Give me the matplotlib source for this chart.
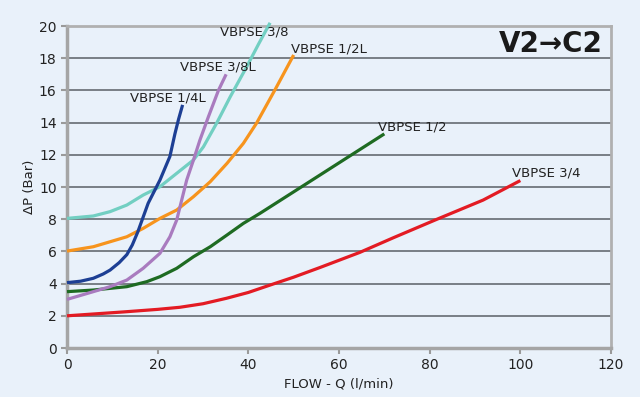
import matplotlib.pyplot as plt

# values (flow l/min, pressure drop bar)
x_34 = [0, 12.4, 20, 24.9, 30, 35.2, 40, 44.8, 50, 55.8, 64.6, 72, 81.2, 91.8, 100]
y_34 = [2.0, 2.24, 2.4, 2.53, 2.75, 3.09, 3.45, 3.91, 4.4, 5.0, 5.94, 6.85, 7.95, 9.19, 10.4]

x_12 = [0, 5.8, 13.2, 17.6, 20.5, 24.2, 27.9, 31.6, 35.3, 38.9, 42.6, 50, 60, 70]
y_12 = [3.5, 3.6, 3.81, 4.12, 4.43, 4.95, 5.67, 6.29, 7.02, 7.74, 8.37, 9.7, 11.5, 13.3]

x_12l = [0, 5.8, 9.5, 13.2, 16.8, 20.5, 24.2, 27.9, 31.6, 35.3, 38.9, 41.8, 46, 50]
y_12l = [6.02, 6.29, 6.6, 6.91, 7.43, 8.05, 8.57, 9.4, 10.33, 11.47, 12.71, 13.96, 16.1, 18.2]

x_38 = [0, 5.8, 9.5, 13.2, 16.8, 20.5, 24.2, 27.9, 30.1, 33.0, 36.0, 39.6, 42.3, 44.8]
y_38 = [8.05, 8.2, 8.47, 8.88, 9.5, 10.02, 10.85, 11.68, 12.5, 13.96, 15.6, 17.45, 18.9, 20.2]

x_38l = [0, 5.8, 9.5, 13.2, 16.8, 20.5, 22.7, 24.2, 25.3, 26.4, 27.9, 29.3, 31.2, 33.4, 35.1]
y_38l = [3.02, 3.5, 3.81, 4.22, 4.95, 5.88, 6.91, 7.95, 9.19, 10.43, 11.68, 12.9, 14.37, 16.0, 17.0]

x_14l = [0, 3, 5.8, 8, 9.5, 11.5, 13.2, 14.4, 15.6, 17.9, 20.5, 22.7, 23.8, 24.6, 25.5]
y_14l = [4.06, 4.15, 4.33, 4.6, 4.84, 5.3, 5.8, 6.4, 7.2, 8.99, 10.43, 11.9, 13.3, 14.2, 15.1]

names = ['VBPSE 3/4', 'VBPSE 1/2', 'VBPSE 1/2L', 'VBPSE 3/8', 'VBPSE 3/8L', 'VBPSE 1/4L']
colors = ['#e31b23', '#1e6b22', '#f7941d', '#72cfc2', '#a97bbf', '#1d3f94']
label_pos = [(98.2, 10.9), (68.6, 13.7), (49.4, 18.6), (33.8, 19.6), (24.9, 17.45), (13.9, 15.5)]

bg = '#e9f1fa'
fig = plt.figure(figsize=(6.4, 3.97), dpi=100, facecolor=bg)
ax = fig.add_axes([0.1047, 0.1234, 0.85, 0.8111], facecolor=bg)

for yy in range(2, 20, 2):
    ax.axhline(yy, color='#5a5f66', lw=1.1, zorder=1)

series = [(x_34, y_34), (x_12, y_12), (x_12l, y_12l), (x_38, y_38), (x_38l, y_38l), (x_14l, y_14l)]
for (xs, ys), c in zip(series, colors):
    ax.plot(xs, ys, color=c, lw=2.3, solid_capstyle='butt', solid_joinstyle='round',
            zorder=3, clip_on=False)

for name, (lx, ly) in zip(names, label_pos):
    ax.text(lx, ly, name, fontsize=9.5, color='#222222', ha='left', va='center', zorder=4)

ax.text(0.985, 0.945, 'V2\u2192C2', transform=ax.transAxes, fontsize=20, fontweight='bold',
        ha='right', va='center', color='#1a1a1a')

ax.set_xlim(0, 120)
ax.set_ylim(0, 20)
ax.set_xticks(range(0, 121, 20))
ax.set_yticks(range(0, 21, 2))
ax.tick_params(axis='both', labelsize=10, colors='#9a9a9a', labelcolor='#222222', length=4, width=1.5)
for side in ['left', 'bottom']:
    ax.spines[side].set_color('#a5a5a5')
    ax.spines[side].set_linewidth(2.5)
for side in ['right', 'top']:
    ax.spines[side].set_color('#b0b0b0')
    ax.spines[side].set_linewidth(2)

ax.set_xlabel('FLOW - Q (l/min)', fontsize=9.5, color='#222222', labelpad=4)
ax.set_ylabel('\u0394P (Bar)', fontsize=9.5, color='#222222', labelpad=2)

fig.savefig('out.png', dpi=100, facecolor=bg)
